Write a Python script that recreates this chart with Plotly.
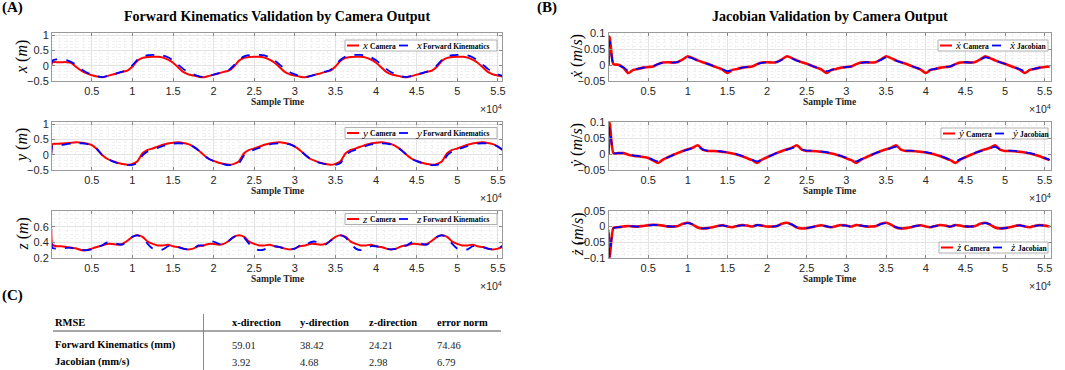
import plotly.graph_objects as go

# ---------------- data ----------------
T = [0, 150] + [625 * k for k in range(1, 90)]  # sample time

x_cam = [0.0, 0.12, 0.12, 0.12, 0.12, 0.09, -0.05, -0.17, -0.25, -0.31, -0.35,
         -0.38, -0.34, -0.29, -0.25, -0.20, -0.16, -0.02, 0.17, 0.26, 0.29, 0.30, 0.30, 0.27, 0.20, 0.10, -0.05, -0.20, -0.28, -0.32, -0.36,
         -0.38, -0.34, -0.29, -0.25, -0.20, -0.16, -0.02, 0.17, 0.26, 0.29, 0.30, 0.30, 0.27, 0.20, 0.10, -0.05, -0.20, -0.28, -0.32, -0.36,
         -0.38, -0.34, -0.29, -0.25, -0.20, -0.16, -0.02, 0.17, 0.26, 0.29, 0.30, 0.30, 0.27, 0.20, 0.10, -0.05, -0.20, -0.28, -0.32, -0.36,
         -0.38, -0.34, -0.29, -0.25, -0.20, -0.16, -0.02, 0.17, 0.26, 0.29, 0.30, 0.30, 0.27, 0.20, 0.10, -0.05, -0.20, -0.28, -0.32, -0.36]
x_fk = [0.05, 0.17, 0.21, 0.21, 0.19, 0.12, 0.02, -0.12, -0.22, -0.29, -0.34,
        -0.37, -0.34, -0.29, -0.24, -0.19, -0.14, 0.02, 0.20, 0.31, 0.35, 0.36, 0.36, 0.34, 0.28, 0.18, 0.04, -0.10, -0.21, -0.28, -0.34,
        -0.37, -0.34, -0.29, -0.24, -0.19, -0.14, 0.02, 0.20, 0.31, 0.35, 0.36, 0.36, 0.34, 0.28, 0.18, 0.04, -0.10, -0.21, -0.28, -0.34,
        -0.37, -0.34, -0.29, -0.24, -0.19, -0.14, 0.02, 0.20, 0.31, 0.35, 0.36, 0.36, 0.34, 0.28, 0.18, 0.04, -0.10, -0.21, -0.28, -0.34,
        -0.37, -0.34, -0.29, -0.24, -0.19, -0.14, 0.02, 0.20, 0.31, 0.35, 0.36, 0.36, 0.34, 0.28, 0.18, 0.04, -0.10, -0.21, -0.28, -0.34]

y_cam = [0.0, 0.35, 0.36, 0.37, 0.38, 0.40, 0.41, 0.40, 0.37, 0.32, 0.19,
         0.0, -0.13, -0.20, -0.26, -0.30, -0.33, -0.30, -0.21, 0.05, 0.16, 0.21, 0.27, 0.33, 0.37, 0.40, 0.41, 0.39, 0.35, 0.27, 0.15,
         0.0, -0.13, -0.20, -0.26, -0.30, -0.33, -0.30, -0.21, 0.05, 0.16, 0.21, 0.27, 0.33, 0.37, 0.40, 0.41, 0.39, 0.35, 0.27, 0.15,
         0.0, -0.13, -0.20, -0.26, -0.30, -0.33, -0.30, -0.21, 0.05, 0.16, 0.21, 0.27, 0.33, 0.37, 0.40, 0.41, 0.39, 0.35, 0.27, 0.15,
         0.0, -0.13, -0.20, -0.26, -0.30, -0.33, -0.30, -0.21, 0.05, 0.16, 0.21, 0.27, 0.33, 0.37, 0.40, 0.41, 0.39, 0.35, 0.27, 0.15]
y_fk = [0.0, 0.28, 0.30, 0.32, 0.35, 0.37, 0.38, 0.38, 0.36, 0.31, 0.19,
        0.0, -0.13, -0.21, -0.27, -0.31, -0.34, -0.33, -0.27, -0.02, 0.11, 0.17, 0.23, 0.29, 0.34, 0.37, 0.38, 0.37, 0.34, 0.27, 0.15,
        0.0, -0.13, -0.21, -0.27, -0.31, -0.34, -0.33, -0.27, -0.02, 0.11, 0.17, 0.23, 0.29, 0.34, 0.37, 0.38, 0.37, 0.34, 0.27, 0.15,
        0.0, -0.13, -0.21, -0.27, -0.31, -0.34, -0.33, -0.27, -0.02, 0.11, 0.17, 0.23, 0.29, 0.34, 0.37, 0.38, 0.37, 0.34, 0.27, 0.15,
        0.0, -0.13, -0.21, -0.27, -0.31, -0.34, -0.33, -0.27, -0.02, 0.11, 0.17, 0.23, 0.29, 0.34, 0.37, 0.38, 0.37, 0.34, 0.27, 0.15]

z_cam = [0.57, 0.37, 0.35, 0.35, 0.34, 0.33, 0.32, 0.30, 0.30, 0.32, 0.34,
         0.36, 0.38, 0.38, 0.37, 0.38, 0.42, 0.47, 0.49, 0.47, 0.41, 0.38, 0.36, 0.36, 0.37, 0.35, 0.34, 0.32, 0.31, 0.32, 0.35,
         0.36, 0.38, 0.38, 0.37, 0.38, 0.42, 0.47, 0.49, 0.47, 0.41, 0.38, 0.36, 0.36, 0.37, 0.35, 0.34, 0.32, 0.31, 0.32, 0.35,
         0.36, 0.38, 0.38, 0.37, 0.38, 0.42, 0.47, 0.49, 0.47, 0.41, 0.38, 0.36, 0.36, 0.37, 0.35, 0.34, 0.32, 0.31, 0.32, 0.35,
         0.36, 0.38, 0.38, 0.37, 0.38, 0.42, 0.47, 0.49, 0.47, 0.41, 0.38, 0.36, 0.36, 0.37, 0.35, 0.34, 0.32, 0.31, 0.32, 0.35]
z_fk = [0.63, 0.33, 0.32, 0.32, 0.33, 0.33, 0.31, 0.30, 0.30, 0.31, 0.34,
        0.36, 0.40, 0.41, 0.38, 0.37, 0.42, 0.47, 0.49, 0.46, 0.38, 0.32, 0.30, 0.31, 0.35, 0.35, 0.34, 0.32, 0.31, 0.32, 0.36,
        0.36, 0.40, 0.41, 0.38, 0.37, 0.42, 0.47, 0.49, 0.46, 0.38, 0.32, 0.30, 0.31, 0.35, 0.35, 0.34, 0.32, 0.31, 0.32, 0.36,
        0.36, 0.40, 0.41, 0.38, 0.37, 0.42, 0.47, 0.49, 0.46, 0.38, 0.32, 0.30, 0.31, 0.35, 0.35, 0.34, 0.32, 0.31, 0.32, 0.36,
        0.36, 0.40, 0.41, 0.38, 0.37, 0.42, 0.47, 0.49, 0.46, 0.38, 0.32, 0.30, 0.31, 0.35, 0.35, 0.34, 0.32, 0.31, 0.32, 0.36]

xd_cam = [0.0, 0.09, 0.003, 0.001, -0.008, -0.025, -0.015, -0.012, -0.008, -0.006, -0.004,
          0.003, 0.008, 0.009, 0.008, 0.010, 0.018, 0.028, 0.022, 0.015, 0.009, 0.004, -0.002, -0.008, -0.014, -0.025, -0.015, -0.012, -0.008, -0.006, -0.004,
          0.003, 0.008, 0.009, 0.008, 0.010, 0.018, 0.028, 0.022, 0.015, 0.009, 0.004, -0.002, -0.008, -0.014, -0.025, -0.015, -0.012, -0.008, -0.006, -0.004,
          0.003, 0.008, 0.009, 0.008, 0.010, 0.018, 0.028, 0.022, 0.015, 0.009, 0.004, -0.002, -0.008, -0.014, -0.025, -0.015, -0.012, -0.008, -0.006, -0.004,
          0.003, 0.008, 0.009, 0.008, 0.010, 0.018, 0.028, 0.022, 0.015, 0.009, 0.004, -0.002, -0.008, -0.014, -0.025, -0.015, -0.012, -0.008, -0.006, -0.004]
xd_jac = [0.0, 0.075, 0.002, 0.0, -0.007, -0.018, -0.014, -0.011, -0.008, -0.006, -0.003,
          0.003, 0.007, 0.009, 0.008, 0.010, 0.017, 0.024, 0.021, 0.014, 0.009, 0.004, -0.002, -0.008, -0.013, -0.019, -0.015, -0.011, -0.008, -0.006, -0.004,
          0.003, 0.007, 0.009, 0.008, 0.010, 0.017, 0.024, 0.021, 0.014, 0.009, 0.004, -0.002, -0.008, -0.013, -0.019, -0.015, -0.011, -0.008, -0.006, -0.004,
          0.003, 0.007, 0.009, 0.008, 0.010, 0.017, 0.024, 0.021, 0.014, 0.009, 0.004, -0.002, -0.008, -0.013, -0.019, -0.015, -0.011, -0.008, -0.006, -0.004,
          0.003, 0.007, 0.009, 0.008, 0.010, 0.017, 0.024, 0.021, 0.014, 0.009, 0.004, -0.002, -0.008, -0.013, -0.019, -0.015, -0.011, -0.008, -0.006, -0.004]

yd_cam = [0.0, 0.1, 0.003, 0.003, 0.003, -0.002, -0.005, -0.007, -0.009, -0.012, -0.02,
          -0.028, -0.017, -0.010, -0.003, 0.004, 0.010, 0.015, 0.020, 0.028, 0.014, 0.010, 0.010, 0.009, 0.007, 0.005, 0.002, -0.002, -0.007, -0.013, -0.019,
          -0.028, -0.017, -0.010, -0.003, 0.004, 0.010, 0.015, 0.020, 0.028, 0.014, 0.010, 0.010, 0.009, 0.007, 0.005, 0.002, -0.002, -0.007, -0.013, -0.019,
          -0.028, -0.017, -0.010, -0.003, 0.004, 0.010, 0.015, 0.020, 0.028, 0.014, 0.010, 0.010, 0.009, 0.007, 0.005, 0.002, -0.002, -0.007, -0.013, -0.019,
          -0.028, -0.017, -0.010, -0.003, 0.004, 0.010, 0.015, 0.020, 0.028, 0.014, 0.010, 0.010, 0.009, 0.007, 0.005, 0.002, -0.002, -0.007, -0.013, -0.019]
yd_jac = [0.0, 0.085, 0.003, 0.003, 0.003, -0.001, -0.004, -0.006, -0.008, -0.011, -0.018,
          -0.023, -0.016, -0.010, -0.003, 0.004, 0.009, 0.014, 0.019, 0.023, 0.015, 0.011, 0.011, 0.010, 0.008, 0.006, 0.003, -0.001, -0.006, -0.012, -0.018,
          -0.023, -0.016, -0.010, -0.003, 0.004, 0.009, 0.014, 0.019, 0.023, 0.015, 0.011, 0.011, 0.010, 0.008, 0.006, 0.003, -0.001, -0.006, -0.012, -0.018,
          -0.023, -0.016, -0.010, -0.003, 0.004, 0.009, 0.014, 0.019, 0.023, 0.015, 0.011, 0.011, 0.010, 0.008, 0.006, 0.003, -0.001, -0.006, -0.012, -0.018,
          -0.023, -0.016, -0.010, -0.003, 0.004, 0.009, 0.014, 0.019, 0.023, 0.015, 0.011, 0.011, 0.010, 0.008, 0.006, 0.003, -0.001, -0.006, -0.012, -0.018]

zd_cam = [-0.02, -0.1, -0.004, -0.002, 0.0, 0.002, 0.0, 0.0, 0.002, 0.004, 0.006,
          0.005, 0.003, 0.0, 0.0, 0.002, 0.009, 0.012, 0.006, -0.003, -0.006, -0.005, -0.002, 0.002, 0.004, 0.0, -0.002, 0.002, 0.005, 0.003, 0.0,
          0.005, 0.003, 0.0, 0.0, 0.002, 0.009, 0.012, 0.006, -0.003, -0.006, -0.005, -0.002, 0.002, 0.004, 0.0, -0.002, 0.002, 0.005, 0.003, 0.0,
          0.005, 0.003, 0.0, 0.0, 0.002, 0.009, 0.012, 0.006, -0.003, -0.006, -0.005, -0.002, 0.002, 0.004, 0.0, -0.002, 0.002, 0.005, 0.003, 0.0,
          0.005, 0.003, 0.0, 0.0, 0.002, 0.009, 0.012, 0.006, -0.003, -0.006, -0.005, -0.002, 0.002, 0.004, 0.0, -0.002, 0.002, 0.005, 0.003, 0.0]
zd_jac = [-0.01, -0.095, -0.005, -0.002, 0.0, 0.002, 0.001, 0.0, 0.002, 0.004, 0.005,
          0.005, 0.003, 0.001, 0.0, 0.002, 0.008, 0.011, 0.007, -0.002, -0.006, -0.005, -0.002, 0.002, 0.004, 0.001, -0.002, 0.002, 0.004, 0.003, 0.0,
          0.005, 0.003, 0.001, 0.0, 0.002, 0.008, 0.011, 0.007, -0.002, -0.006, -0.005, -0.002, 0.002, 0.004, 0.001, -0.002, 0.002, 0.004, 0.003, 0.0,
          0.005, 0.003, 0.001, 0.0, 0.002, 0.008, 0.011, 0.007, -0.002, -0.006, -0.005, -0.002, 0.002, 0.004, 0.001, -0.002, 0.002, 0.004, 0.003, 0.0,
          0.005, 0.003, 0.001, 0.0, 0.002, 0.008, 0.011, 0.007, -0.002, -0.006, -0.005, -0.002, 0.002, 0.004, 0.001, -0.002, 0.002, 0.004, 0.003, 0.0]

x_tickvals = [5000, 10000, 15000, 20000, 25000, 30000, 35000, 40000, 45000, 50000, 55000]
x_ticktext = ['0.5', '1', '1.5', '2', '2.5', '3', '3.5', '4', '4.5', '5', '5.5']

tbl_header = ['RMSE', 'x-direction', 'y-direction', 'z-direction', 'error norm']
tbl_rows = ['Forward Kinematics (mm)', 'Jacobian (mm/s)']
fk_rmse = ['59.01', '38.42', '24.21', '74.46']
jac_rmse = ['3.92', '4.68', '2.98', '6.79']

# ---------------- layout helpers ----------------
W, H = 1065, 370
def px(x):
    return x / W
def py(y):
    return 1 - y / H

SERIF = 'Liberation Serif'
SANS = 'Liberation Sans'
RED = '#ff0000'
BLUE = '#0000ff'

# leg = (box_x0, box_x1, box_y_top, box_y_bottom)
panels = [
    dict(cam=x_cam, oth=x_fk, sym='x', oth_lbl='Forward Kinematics', yt=[-0.5, 0, 0.5, 1], yr=[-0.5, 1.08], ym=0.1,
         xd=(52, 502), yd=(33, 81), xr=[100, 55500], leg=(345, 497, 40, 51), ylab='<i>x</i> (<i>m</i>)', ylx=22, rw=2.0),
    dict(cam=y_cam, oth=y_fk, sym='y', oth_lbl='Forward Kinematics', yt=[-0.5, 0, 0.5, 1], yr=[-0.5, 1.08], ym=0.1,
         xd=(52, 502), yd=(122, 170), xr=[100, 55500], leg=(345, 497, 127.5, 138.5), ylab='<i>y</i> (<i>m</i>)', ylx=22, rw=2.0),
    dict(cam=z_cam, oth=z_fk, sym='z', oth_lbl='Forward Kinematics', yt=[0.2, 0.4, 0.6], yr=[0.2, 0.8], ym=0.05,
         xd=(52, 502), yd=(211, 258), xr=[100, 55500], leg=(345, 497, 213.5, 224.5), ylab='<i>z</i> (<i>m</i>)', ylx=22, rw=2.0),
    dict(cam=xd_cam, oth=xd_jac, sym='ẋ', oth_lbl='Jacobian', yt=[-0.05, 0, 0.05, 0.1], yr=[-0.05, 0.101], ym=0.01,
         xd=(608.5, 1051), yd=(33, 81), xr=[0, 55800], leg=(938, 1048, 40, 51), ylab='<i>ẋ</i> (<i>m</i>/<i>s</i>)', ylx=577, rw=2.6),
    dict(cam=yd_cam, oth=yd_jac, sym='ẏ', oth_lbl='Jacobian', yt=[-0.05, 0, 0.05, 0.1], yr=[-0.05, 0.101], ym=0.01,
         xd=(608.5, 1051), yd=(122, 170), xr=[0, 55800], leg=(941, 1048, 128, 139), ylab='<i>ẏ</i> (<i>m</i>/<i>s</i>)', ylx=577, rw=2.6),
    dict(cam=zd_cam, oth=zd_jac, sym='ż', oth_lbl='Jacobian', yt=[-0.1, -0.05, 0, 0.05], yr=[-0.101, 0.05], ym=0.01,
         xd=(608.5, 1051), yd=(211, 258), xr=[0, 55800], leg=(939, 1048, 242, 253), ylab='<i>ż</i> (<i>m</i>/<i>s</i>)', ylx=577, rw=2.6),
]

fig = go.Figure()
layout = dict(width=W, height=H, margin=dict(l=0, r=0, t=0, b=0, pad=0, autoexpand=False), autosize=False,
              paper_bgcolor='white', plot_bgcolor='white', showlegend=False, template='none')
annotations = []
shapes = []

def ann(text, x, y, size, family=SERIF, xanchor='center', yanchor='middle', angle=0, color='black'):
    return dict(text=text, x=px(x), y=py(y), xref='paper', yref='paper', xanchor=xanchor, yanchor=yanchor,
                textangle=angle, showarrow=False, font=dict(family=family, size=size, color=color))

def pline(x0, x1, y0, y1, color, width, dash='solid'):
    return dict(type='line', xref='paper', yref='paper', x0=px(x0), x1=px(x1), y0=py(y0), y1=py(y1),
                layer='above', line=dict(color=color, width=width, dash=dash))

for i, p in enumerate(panels, start=1):
    sfx = '' if i == 1 else str(i)
    fig.add_trace(go.Scatter(x=T, y=p['cam'], mode='lines', line=dict(color=RED, width=p['rw'], shape='spline', smoothing=0.6),
                             name=p['sym'] + ' Camera', xaxis='x' + sfx, yaxis='y' + sfx))
    fig.add_trace(go.Scatter(x=T, y=p['oth'], mode='lines', line=dict(color=BLUE, width=1.8, dash='dash', shape='spline', smoothing=0.6),
                             name=p['sym'] + ' ' + p['oth_lbl'], xaxis='x' + sfx, yaxis='y' + sfx))
    layout['xaxis' + sfx] = dict(domain=[px(p['xd'][0]), px(p['xd'][1])], anchor='y' + sfx, range=p['xr'], automargin=False,
                                 tickvals=x_tickvals, ticktext=x_ticktext, ticks='inside', ticklen=3, tickcolor='#888',
                                 showline=True, mirror='ticks', linecolor='#9a9a9a', linewidth=1,
                                 showgrid=True, gridcolor='#e3e3e3', gridwidth=1, zeroline=False,
                                 minor=dict(dtick=1000, tick0=0, showgrid=True, gridcolor='#f1f1f1', griddash='dot'),
                                 tickfont=dict(family=SANS, size=11, color='#262626'))
    layout['yaxis' + sfx] = dict(domain=[py(p['yd'][1]), py(p['yd'][0])], anchor='x' + sfx, range=p['yr'], automargin=False,
                                 tickvals=p['yt'], ticks='inside', ticklen=3, tickcolor='#888',
                                 showline=True, mirror='ticks', linecolor='#9a9a9a', linewidth=1,
                                 showgrid=True, gridcolor='#e3e3e3', gridwidth=1, zeroline=False,
                                 minor=dict(dtick=p['ym'], tick0=0, showgrid=True, gridcolor='#f1f1f1', griddash='dot'),
                                 tickfont=dict(family=SANS, size=11, color='#262626'))
    # legend box (drawn above the traces, like the reference's opaque legend)
    bx0, bx1, by0, by1 = p['leg']
    ym_ = (by0 + by1) / 2
    shapes.append(dict(type='rect', xref='paper', yref='paper', x0=px(bx0), x1=px(bx1), y0=py(by1), y1=py(by0),
                       layer='above', fillcolor='white', line=dict(color='#b0b0b0', width=1)))
    k1, t1, k2, t2 = bx0 + 2, bx0 + 15, bx0 + 54, bx0 + 69
    shapes.append(pline(k1, k1 + 12, ym_, ym_, RED, 2))
    shapes.append(pline(k2, k2 + 13, ym_, ym_, BLUE, 1.8, 'dash'))
    annotations.append(ann('<i>%s</i>' % p['sym'], t1, ym_ - 0.5, 11, xanchor='left'))
    annotations.append(ann('<b>Camera</b>', t1 + 7.5, ym_ + 0.5, 7.5, xanchor='left'))
    annotations.append(ann('<i>%s</i>' % p['sym'], t2, ym_ - 0.5, 11, xanchor='left'))
    annotations.append(ann('<b>%s</b>' % p['oth_lbl'], t2 + 7.5, ym_ + 0.5, 7.5, xanchor='left'))

    yc = (p['yd'][0] + p['yd'][1]) / 2
    annotations.append(ann(p['ylab'], p['ylx'], yc, 16, angle=-90))
    xc = (p['xd'][0] + p['xd'][1]) / 2
    annotations.append(ann('<b>Sample Time</b>', xc, p['yd'][1] + 21, 9.5, color='#262626'))
    annotations.append(ann('×10<sup>4</sup>', p['xd'][1] + 2, p['yd'][1] + 27, 10.5, family=SANS, xanchor='right', color='#262626'))

# titles and panel letters
annotations += [
    ann('<b>Forward Kinematics Validation by Camera Output</b>', 277, 17, 14),
    ann('<b>Jacobian Validation by Camera Output</b>', 830, 17, 14),
    ann('<b>(A)</b>', 0, 7, 15, xanchor='left'),
    ann('<b>(B)</b>', 535, 7, 15, xanchor='left'),
    ann('<b>(C)</b>', 0, 295, 15, xanchor='left'),
]

# table (C)
col_x = [53, 230, 298, 367, 435]
for cx, h in zip(col_x, tbl_header):
    annotations.append(ann('<b>%s</b>' % h, cx, 322, 10.5, xanchor='left'))
for ry, name, vals in zip([345, 362], tbl_rows, [fk_rmse, jac_rmse]):
    annotations.append(ann('<b>%s</b>' % name, col_x[0], ry, 10.5, xanchor='left'))
    for cx, v in zip(col_x[1:], vals):
        annotations.append(ann(v, cx, ry, 10.5, xanchor='left', color='#222'))
shapes.append(dict(type='line', xref='paper', yref='paper', x0=px(53), x1=px(501), y0=py(331), y1=py(331),
                   line=dict(color='#8a8a8a', width=1.5)))
shapes.append(dict(type='line', xref='paper', yref='paper', x0=px(203.5), x1=px(203.5), y0=py(314), y1=py(370),
                   line=dict(color='#8a8a8a', width=1)))

layout['annotations'] = annotations
layout['shapes'] = shapes
fig.update_layout(**layout)
fig.write_html('out.html', config={'displayModeBar': False},
               post_script="document.body.style.margin='0px';document.body.style.overflow='hidden';")
